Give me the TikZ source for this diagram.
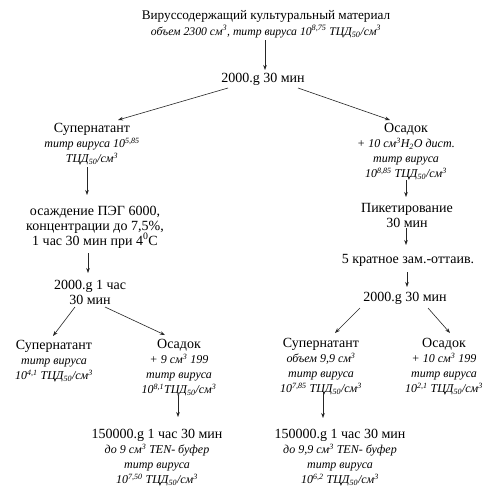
\documentclass[tikz,border=0pt]{standalone}
\usepackage{fontspec}
\setmainfont{Liberation Serif}
\usetikzlibrary{arrows.meta,calc}
\newcommand\upf{\fontsize{14}{15}\selectfont\upshape}
\newcommand\itf{\fontsize{12}{15}\selectfont\itshape}
\newcommand\ttlf{\fontsize{13.2}{16}\selectfont\upshape}
\newcommand\ttlitf{\fontsize{11.7}{16}\selectfont\itshape}
\newcommand\tcd{ТЦД\textsubscript{50}/см\textsuperscript{3}}
\begin{document}
\begin{tikzpicture}[x=1pt,y=-1pt,
  blk/.style={inner sep=0pt,align=center,font=\upf},
  arr/.style={-{Stealth[length=5pt,width=3.6pt]},line width=0.6pt,black!85}]
\useasboundingbox[fill=white] (0,0) rectangle (488,493);

\node[blk,font=\ttlf] (top) at (266,24) {Вируссодержащий культуральный материал\\
  {\ttlitf объем 2300 см\textsuperscript{3}, титр вируса 10\textsuperscript{8,75} \tcd}};
\node[blk] (g1) at (263,79) {2000.g 30 мин};

\node[blk] (sup1) at (92,144.5) {Супернатант\\{\itf титр вируса 10\textsuperscript{5,85}}\\{\itf \tcd}};
\node[blk] (os1) at (406,152) {Осадок\\{\itf + 10 см\textsuperscript{3}H\textsubscript{2}O дист.}\\{\itf титр вируса}\\{\itf 10\textsuperscript{8,85} \tcd}};

\node[blk] (peg) at (95,227) {осаждение ПЭГ 6000,\\концентрации до 7,5\%,\\1 час 30 мин при 4\textsuperscript{0}С};
\node[blk] (pik) at (407,215) {Пикетирование\\30 мин};
\node[blk] (zam) at (408,260) {5 кратное зам.-оттаив.};

\node[blk] (g2) at (90,292.5) {2000.g 1 час\\30 мин};
\node[blk] (g3) at (405,298) {2000.g 30 мин};

\node[blk] (sup2) at (54,361) {Супернатант\\{\itf титр вируса}\\{\itf 10\textsuperscript{4,1} \tcd}};
\node[blk] (os2) at (179,368) {Осадок\\{\itf + 9 см\textsuperscript{3} 199}\\{\itf титр вируса}\\{\itf 10\textsuperscript{8,1}\tcd}};
\node[blk] (sup3) at (321,367) {Супернатант\\{\itf объем 9,9 см\textsuperscript{3}}\\{\itf титр вируса}\\{\itf 10\textsuperscript{7,85} \tcd}};
\node[blk] (os3) at (444,367) {Осадок\\{\itf + 10 см\textsuperscript{3} 199}\\{\itf титр вируса}\\{\itf 10\textsuperscript{2,1} \tcd}};

\node[blk] (fin1) at (157,457.5) {150000.g 1 час 30 мин\\{\itf до 9 см\textsuperscript{3} TEN- буфер}\\{\itf титр вируса}\\{\itf 10\textsuperscript{7,50} \tcd}};
\node[blk] (fin2) at (340,457.5) {150000.g 1 час 30 мин\\{\itf до 9,9 см\textsuperscript{3} TEN- буфер}\\{\itf титр вируса}\\{\itf 10\textsuperscript{6,2} \tcd}};

\draw[arr] ($(top)+(-1,16)$) -- ($(g1)+(2,-9)$);
\draw[arr] ($(g1)+(-35,9)$) -- ($(sup1)+(26,-24.5)$);
\draw[arr] ($(g1)+(35,9)$) -- ($(os1)+(-16,-32)$);
\draw[arr] ($(sup1)+(-5,22.5)$) -- ($(peg)+(-8,-32)$);
\draw[arr] ($(peg)+(-7,26)$) -- ($(g2)+(-2,-19.5)$);
\draw[arr] ($(g2)+(-15,14.5)$) -- ($(sup2)+(-1,-25)$);
\draw[arr] ($(g2)+(15,14.5)$) -- ($(os2)+(-14,-33)$);
\draw[arr] ($(os2)+(-1,27)$) -- ($(fin1)+(21,-40.5)$);
\draw[arr] ($(os1)+(0,28)$) -- ($(pik)+(-1,-18)$);
\draw[arr] ($(pik)+(-1,13)$) -- ($(zam)+(-2,-15)$);
\draw[arr] ($(zam)+(-1,12)$) -- ($(g3)+(2,-11)$);
\draw[arr] ($(g3)+(-45,10)$) -- ($(sup3)+(14,-34)$);
\draw[arr] ($(g3)+(23,10)$) -- ($(os3)+(6,-34)$);
\draw[arr] ($(sup3)+(2,26)$) -- ($(fin2)+(-17,-39.5)$);
\end{tikzpicture}
\end{document}
